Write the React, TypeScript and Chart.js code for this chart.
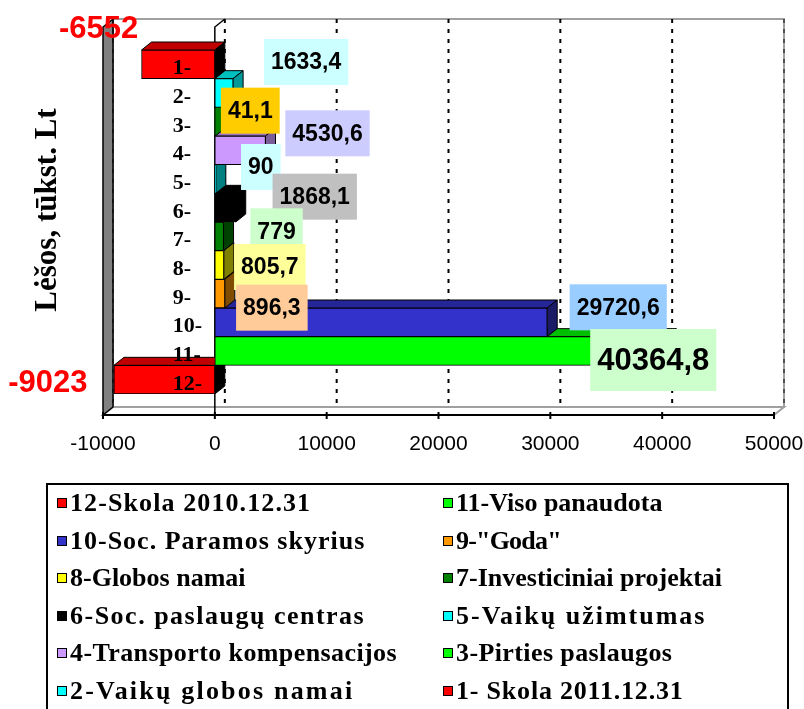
import React, { useEffect, useRef } from 'react';
import { Chart, registerables } from 'chart.js';

Chart.register(...registerables);

// ---------- data ----------
const categories = ['1-', '2-', '3-', '4-', '5-', '6-', '7-', '8-', '9-', '10-', '11-', '12-'];
const values = [-6552, 1633.4, 41.1, 4530.6, 90, 1868.1, 779, 805.7, 896.3, 29720.6, 40364.8, -9023];
const seriesNames = [
  '1- Skola 2011.12.31',
  '2-Vaikų globos namai',
  '3-Pirties paslaugos',
  '4-Transporto kompensacijos',
  '5-Vaikų užimtumas',
  '6-Soc. paslaugų centras',
  '7-Investiciniai projektai',
  '8-Globos namai',
  '9-"Goda"',
  '10-Soc. Paramos skyrius',
  '11-Viso panaudota',
  '12-Skola 2010.12.31',
];
const xTicks = [-10000, 0, 10000, 20000, 30000, 40000, 50000];
const yTitle = 'Lėšos, tūkst. Lt';
const legendOrder = [12, 11, 10, 9, 8, 7, 6, 5, 4, 3, 2, 1];

// ---------- styles ----------
const barColors = ['#FF0000', '#00FFFF', '#00FF00', '#CC99FF', '#00FFFF', '#000000', '#008000', '#FFFF00', '#FF9900', '#3333CC', '#00FF00', '#FF0000'];
const topColors = ['#C00000', '#00BFBF', '#00BF00', '#9973BF', '#00BFBF', '#000000', '#006000', '#BFBF00', '#BF7300', '#262699', '#00BF00', '#C00000'];
const sideColors = ['#000000', '#009999', '#008000', '#7A5C99', '#008080', '#000000', '#004000', '#808000', '#804C00', '#1A1A66', '#008000', '#000000'];
const labelBg = ['', '#CCFFFF', '#FFCC00', '#CCCCFF', '#CCFFFF', '#C0C0C0', '#CCFFCC', '#FFFF99', '#FFCC99', '#99CCFF', '#CCFFCC', ''];
const labelColor = ['#FF0000', '#000', '#000', '#000', '#000', '#000', '#000', '#000', '#000', '#000', '#000', '#FF0000'];
const labelOffsets = [[-43, -36], [73, -31], [35, -11], [62, -17], [45, -12], [79, -11], [53, -5], [46, 2], [47, 14], [71, -15], [-13, 9], [-66, 3]];
const labelSizes = [31, 23, 23, 23, 23, 23, 23, 23, 23, 23, 31, 31];
const legendSpacing = ['0.8px', '2.2px', '0.4px', '0.4px', '2px', '1.5px', '0px', '0px', '-0.8px', '1px', '0px', '1.1px'];

const DX = 10;
const DY = 8;
const SERIF = '"Liberation Serif", "Times New Roman", serif';
const SANS = '"Liberation Sans", Arial, sans-serif';

const fmt = (v: number) => String(v).replace('.', ',');

function poly(ctx: CanvasRenderingContext2D, pts: number[][], fill: string | null, stroke: string | null, lw = 1) {
  ctx.beginPath();
  ctx.moveTo(pts[0][0], pts[0][1]);
  for (let i = 1; i < pts.length; i++) ctx.lineTo(pts[i][0], pts[i][1]);
  ctx.closePath();
  if (fill) { ctx.fillStyle = fill; ctx.fill(); }
  if (stroke) { ctx.strokeStyle = stroke; ctx.lineWidth = lw; ctx.stroke(); }
}

const frame3d = {
  id: 'frame3d',
  beforeDatasetsDraw(chart: any) {
    const { ctx, chartArea, scales } = chart;
    const x = scales.x;
    const left = x.getPixelForValue(xTicks[0]);
    const right = x.getPixelForValue(xTicks[xTicks.length - 1]);
    const front = chartArea.bottom + 21;
    const topY = chartArea.top - 23;
    ctx.save();
    // back wall
    poly(ctx, [[left + DX, topY - DY], [right + DX, topY - DY], [right + DX, front - DY], [left + DX, front - DY]], '#FFFFFF', '#A0A0A0', 2);
    // floor
    poly(ctx, [[left, front], [right, front], [right + DX, front - DY], [left + DX, front - DY]], '#FFFFFF', '#A0A0A0', 2);
    // left wall
    poly(ctx, [[left, topY], [left + DX, topY - DY], [left + DX, front - DY], [left, front]], '#808080', '#000000', 1.5);
    // dotted gridlines on back wall
    ctx.strokeStyle = '#000';
    xTicks.forEach((t, i) => {
      const px = x.getPixelForValue(t) + DX;
      ctx.lineWidth = i === 0 || i === xTicks.length - 1 ? 1 : 2;
      ctx.setLineDash([4, 6]);
      ctx.beginPath();
      ctx.moveTo(px, topY - DY);
      ctx.lineTo(px, front - DY);
      ctx.stroke();
    });
    ctx.setLineDash([]);
    // front axis line + ticks
    ctx.strokeStyle = '#000';
    ctx.lineWidth = 2;
    ctx.beginPath();
    ctx.moveTo(left, front);
    ctx.lineTo(right, front);
    ctx.stroke();
    xTicks.forEach((t) => {
      const px = x.getPixelForValue(t);
      ctx.beginPath();
      ctx.moveTo(px, front - 3);
      ctx.lineTo(px, front + 4);
      ctx.stroke();
    });
    // zero (category) axis line
    const x0 = x.getPixelForValue(0);
    ctx.lineWidth = 1.5;
    ctx.beginPath();
    ctx.moveTo(x0 + DX, topY - DY);
    ctx.lineTo(x0, topY);
    ctx.lineTo(x0, front);
    ctx.stroke();

    // 3D faces of bars (top + side), drawn from last category to first
    const meta = chart.getDatasetMeta(0);
    for (let i = meta.data.length - 1; i >= 0; i--) {
      const el = meta.data[i];
      const p = el.getProps(['x', 'y', 'base', 'height'], true);
      const l = Math.min(p.x, p.base);
      const r = Math.max(p.x, p.base);
      const tp = p.y - p.height / 2;
      const bt = p.y + p.height / 2;
      poly(ctx, [[l, tp], [r, tp], [r + DX, tp - DY], [l + DX, tp - DY]], topColors[i], '#000', 1);
      poly(ctx, [[r, tp], [r, bt], [r + DX, bt - DY], [r + DX, tp - DY]], sideColors[i], '#000', 1);
    }
    ctx.restore();
  },
  afterDatasetsDraw(chart: any) {
    const { ctx, chartArea, scales } = chart;
    const x = scales.x;
    const y = scales.y;
    const front = chartArea.bottom + 21;
    const x0 = x.getPixelForValue(0);
    ctx.save();
    // category labels
    ctx.fillStyle = '#000';
    ctx.font = `bold 22px ${SERIF}`;
    ctx.textAlign = 'left';
    ctx.textBaseline = 'alphabetic';
    categories.forEach((c, i) => {
      ctx.fillText(c, x0 - 42, y.getPixelForValue(i) + 10);
    });
    // x tick labels
    ctx.font = `21px ${SANS}`;
    ctx.textAlign = 'center';
    xTicks.forEach((t) => {
      ctx.fillText(String(t), x.getPixelForValue(t), front + 35);
    });
    // y title
    ctx.save();
    ctx.translate(48, (chartArea.top + chartArea.bottom) / 2 - 12);
    ctx.rotate(-Math.PI / 2);
    ctx.font = `bold 31px ${SERIF}`;
    ctx.textBaseline = 'middle';
    ctx.fillText(yTitle, 0, 0);
    ctx.restore();
    // data labels
    const meta = chart.getDatasetMeta(0);
    meta.data.forEach((el: any, i: number) => {
      const p = el.getProps(['x', 'y'], true);
      const cx = p.x + labelOffsets[i][0];
      const cy = p.y + labelOffsets[i][1];
      const txt = fmt(values[i]);
      const sz = labelSizes[i];
      ctx.font = `bold ${sz}px ${SANS}`;
      const w = ctx.measureText(txt).width;
      if (labelBg[i]) {
        const bw = w + 14;
        const bh = Math.round(sz * 2);
        ctx.fillStyle = labelBg[i];
        ctx.fillRect(cx - bw / 2, cy - bh / 2, bw, bh);
      }
      ctx.fillStyle = labelColor[i];
      ctx.textAlign = 'center';
      ctx.textBaseline = 'middle';
      ctx.fillText(txt, cx, cy + 1);
    });
    ctx.restore();
  },
};

export default function App() {
  const ref = useRef<HTMLCanvasElement | null>(null);
  useEffect(() => {
    if (!ref.current) return;
    const chart = new Chart(ref.current, {
      type: 'bar',
      data: {
        labels: categories,
        datasets: [
          {
            data: values,
            backgroundColor: barColors,
            borderColor: '#000000',
            borderWidth: 1,
            borderSkipped: false,
            barPercentage: 1,
            categoryPercentage: 1,
          },
        ],
      },
      options: {
        indexAxis: 'y',
        animation: false,
        responsive: false,
        devicePixelRatio: 1,
        layout: { padding: { left: 103, right: 30, top: 50, bottom: 315 } },
        plugins: { legend: { display: false }, tooltip: { enabled: false } },
        scales: {
          x: { type: 'linear', min: -10000, max: 50000, display: false, ticks: { stepSize: 10000 } },
          y: { type: 'category', display: false },
        },
      },
      plugins: [frame3d],
    });
    return () => chart.destroy();
  }, []);

  const rows: number[][] = [];
  for (let r = 0; r < legendOrder.length / 2; r++) rows.push([legendOrder[r * 2], legendOrder[r * 2 + 1]]);

  return (
    <div style={{ position: 'fixed', left: 0, top: 0, width: 804, height: 709, overflow: 'hidden', background: '#fff' }}>
      <canvas ref={ref} width={804} height={709} style={{ position: 'absolute', left: 0, top: 0 }} />
      <div
        style={{
          position: 'absolute',
          left: 46,
          top: 483,
          width: 743,
          height: 260,
          border: '2px solid #000',
          boxSizing: 'border-box',
        }}
      >
        {rows.map((pair, r) =>
          pair.map((num, c) => {
            const i = num - 1;
            return (
              <div
                key={num}
                style={{
                  position: 'absolute',
                  left: c === 0 ? 9 : 395,
                  top: 18 + r * 37.6 - 16,
                  height: 32,
                  display: 'flex',
                  alignItems: 'center',
                  whiteSpace: 'nowrap',
                  fontFamily: SERIF,
                  fontWeight: 'bold',
                  fontSize: 26,
                  color: '#000',
                }}
              >
                <span
                  style={{
                    display: 'inline-block',
                    width: 8,
                    height: 8,
                    background: barColors[i],
                    border: '1px solid #000',
                    marginRight: 3,
                  }}
                />
                <span style={{ letterSpacing: legendSpacing[i] }}>{seriesNames[i]}</span>
              </div>
            );
          })
        )}
      </div>
    </div>
  );
}
